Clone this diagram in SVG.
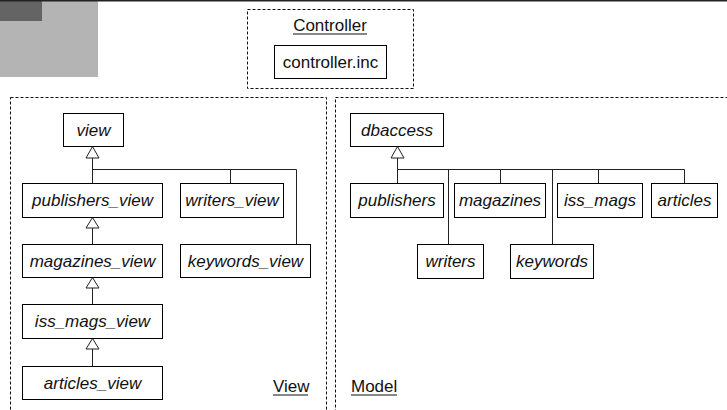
<svg xmlns="http://www.w3.org/2000/svg" width="727" height="410" viewBox="0 0 727 410">
<style>
.pkg{fill:none;stroke:#111;stroke-width:1;stroke-dasharray:3,2}
.box{fill:#fff;stroke:#000;stroke-width:1}
.cls{font-family:"Liberation Sans",Arial,sans-serif;font-size:17px;font-style:italic;fill:#111;text-anchor:middle}
.lbl{font-family:"Liberation Sans",Arial,sans-serif;font-size:17px;fill:#111}
.ln{fill:none;stroke:#222;stroke-width:1}
.tri{fill:#fff;stroke:#222;stroke-width:1}
</style>
<rect x="0" y="0" width="727" height="410" fill="#fff"/>
<rect x="0" y="0" width="98" height="77" fill="#b4b4b4"/>
<rect x="0" y="0" width="42" height="21" fill="#646464"/>
<rect x="0" y="0" width="727" height="1.5" fill="#222"/>

<g id="controller-pkg">
<rect class="pkg" x="247.5" y="9.5" width="166" height="79"/>
<text class="lbl" x="330" y="31" text-anchor="middle">Controller</text>
<line x1="293" y1="34" x2="367" y2="34" stroke="#111" stroke-width="1.2"/>
</g>
<g id="controller-inc">
<rect class="box" x="274.5" y="45.5" width="112" height="33"/>
<text class="lbl" x="330.5" y="68" text-anchor="middle">controller.inc</text>
</g>

<g id="view-pkg">
<rect class="pkg" x="10.5" y="97.5" width="316" height="330"/>
<text class="lbl" x="273" y="392">View</text>
<line x1="273" y1="395" x2="308" y2="395" stroke="#111" stroke-width="1.2"/>
</g>
<g id="model-pkg">
<rect class="pkg" x="335.5" y="97.5" width="420" height="330"/>
<text class="lbl" x="351" y="392">Model</text>
<line x1="351" y1="395" x2="397" y2="395" stroke="#111" stroke-width="1.2"/>
</g>

<g id="connectors">
<path class="ln" d="M92.5 158V183M92.5 169.5H296.5M230.5 169.5V183M296.5 169.5V244"/>
<path class="ln" d="M92.5 228V244M92.5 288V304M92.5 349V366"/>
<polygon class="tri" points="92.5,146.5 86,158 99,158"/>
<polygon class="tri" points="92.5,217.5 86,228 99,228"/>
<polygon class="tri" points="92.5,277.5 86,288 99,288"/>
<polygon class="tri" points="92.5,338.5 86,349 99,349"/>
<path class="ln" d="M397.5 158V183M397.5 169.5H684.5M448.5 169.5V244M500.5 169.5V183M552.5 169.5V244M598.5 169.5V183M684.5 169.5V183"/>
<polygon class="tri" points="397.5,146.5 391,158 404,158"/>
</g>

<g id="view"><rect class="box" x="63.5" y="113.5" width="60" height="33"/><text class="cls" x="93.5" y="136">view</text></g>
<g id="publishers_view"><rect class="box" x="22.5" y="183.5" width="140" height="34"/><text class="cls" x="92.5" y="206">publishers_view</text></g>
<g id="writers_view"><rect class="box" x="180.5" y="183.5" width="103" height="34"/><text class="cls" x="232" y="206">writers_view</text></g>
<g id="magazines_view"><rect class="box" x="22.5" y="244.5" width="140" height="33"/><text class="cls" x="92.5" y="267">magazines_view</text></g>
<g id="keywords_view"><rect class="box" x="180.5" y="244.5" width="130" height="33"/><text class="cls" x="245.5" y="267">keywords_view</text></g>
<g id="iss_mags_view"><rect class="box" x="22.5" y="304.5" width="140" height="34"/><text class="cls" x="92.5" y="327">iss_mags_view</text></g>
<g id="articles_view"><rect class="box" x="22.5" y="366.5" width="140" height="33"/><text class="cls" x="92.5" y="389">articles_view</text></g>

<g id="dbaccess"><rect class="box" x="350.5" y="113.5" width="93" height="33"/><text class="cls" x="397" y="136">dbaccess</text></g>
<g id="publishers"><rect class="box" x="350.5" y="183.5" width="93" height="34"/><text class="cls" x="397" y="206">publishers</text></g>
<g id="magazines"><rect class="box" x="454.5" y="183.5" width="91" height="34"/><text class="cls" x="500" y="206">magazines</text></g>
<g id="iss_mags"><rect class="box" x="557.5" y="183.5" width="85" height="34"/><text class="cls" x="600" y="206">iss_mags</text></g>
<g id="articles"><rect class="box" x="651.5" y="183.5" width="66" height="34"/><text class="cls" x="684.5" y="206">articles</text></g>
<g id="writers"><rect class="box" x="417.5" y="244.5" width="66" height="34"/><text class="cls" x="450.5" y="267">writers</text></g>
<g id="keywords"><rect class="box" x="510.5" y="244.5" width="83" height="34"/><text class="cls" x="552" y="267">keywords</text></g>
</svg>
